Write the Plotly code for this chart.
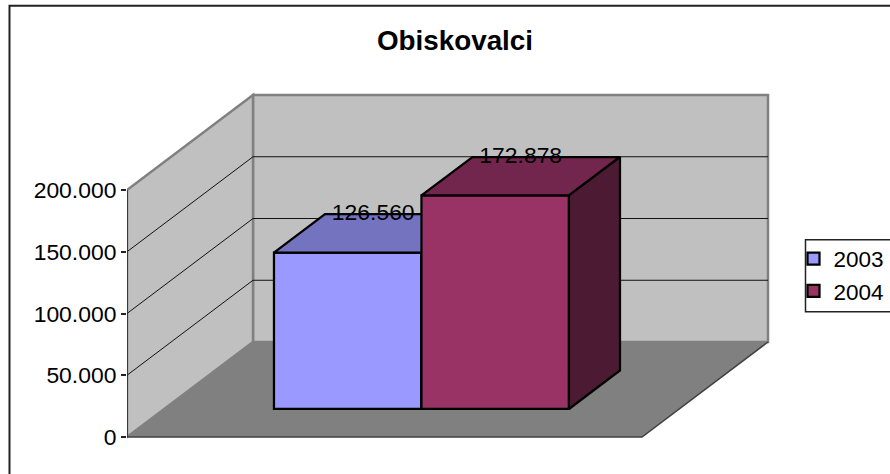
import plotly.graph_objects as go

series_names = ["2003", "2004"]
visitors = [126560, 172878]
tick_values = [0, 50000, 100000, 150000, 200000]
front_colors = ["#9999FF", "#993366"]
top_colors = ["#7373BF", "#73264D"]
side_colors = ["#4D4D80", "#4D1A33"]

FONT = "Liberation Sans, Arial, sans-serif"
W, H = 890, 474
# plot-area rectangle in pixels; pixel scale of the axes
L, R, T, B = 127, 890, 85, 445
X0_PX, Y0_PX, Y200_PX = 127, 437, 190
VALUE_PER_PX = 200000 / (Y0_PX - Y200_PX)
FLOOR_PX = 515

# oblique projection: depth 0..1 moves right and up on the axes
DX = 126 / FLOOR_PX
DY = 95 * VALUE_PER_PX
Z_FRONT, Z_BACK = 0.295, 0.70
GAP = 0.2132
BAR_W = 0.2864
Y_MAX = 200000


def proj(x, v, z):
    return x + DX * z, v + DY * z


def path(points, close=True):
    s = "M" + " L".join(f"{x:.5f},{y:.2f}" for x, y in points)
    return s + (" Z" if close else "")


def px_x(p):
    return (p - L) / (R - L)


def px_y(p):
    return (B - p) / (B - T)


shapes = []
# floor
shapes.append(dict(type="path", layer="below", xref="x", yref="y", line=dict(width=0), fillcolor="#808080",
                   path=path([proj(0, 0, 0), proj(1, 0, 0), proj(1, 0, 1), proj(0, 0, 1)])))
# walls
shapes.append(dict(type="path", layer="below", xref="x", yref="y", line=dict(color="#808080", width=2.5), fillcolor="#C0C0C0",
                   path=path([proj(0, 0, 1), proj(1, 0, 1), proj(1, Y_MAX, 1), proj(0, Y_MAX, 1)])))
shapes.append(dict(type="path", layer="below", xref="x", yref="y", line=dict(color="#808080", width=2.5), fillcolor="#C0C0C0",
                   path=path([proj(0, 0, 0), proj(0, 0, 1), proj(0, Y_MAX, 1), proj(0, Y_MAX, 0)])))
# gridlines
for v in tick_values[1:-1]:
    shapes.append(dict(type="path", layer="below", xref="x", yref="y", line=dict(color="#111111", width=1),
                       path=path([proj(0, v, 0), proj(0, v, 1), proj(1, v, 1)], close=False)))
# floor outer edges
shapes.append(dict(type="path", layer="below", xref="x", yref="y", line=dict(color="#404040", width=1.5),
                   path=path([proj(0, 0, 0), proj(1, 0, 0), proj(1, 0, 1)], close=False)))
# chart frame (runs off the canvas at right and bottom)
shapes.append(dict(type="path", xref="paper", yref="paper", line=dict(color="#222222", width=2),
                   path=path([(px_x(9.5), px_y(480)), (px_x(9.5), px_y(7.5)), (px_x(900), px_y(7.5))], close=False)))
# legend box
shapes.append(dict(type="path", xref="paper", yref="paper", line=dict(color="#222222", width=1.5),
                   path=path([(px_x(900), px_y(241.5)), (px_x(805.5), px_y(241.5)), (px_x(805.5), px_y(311)), (px_x(900), px_y(311))], close=False)))

fig = go.Figure()

for i, (name, value) in enumerate(zip(series_names, visitors)):
    xa, ya = ("x", "y") if i == 0 else ("x2", "y2")
    x_left = GAP + i * BAR_W
    x_right = x_left + BAR_W
    fx, fb = proj(x_left + BAR_W / 2, 0, Z_FRONT)
    fig.add_trace(go.Bar(x=[fx], y=[value], base=[fb], width=[BAR_W], name=name, xaxis=xa, yaxis=ya,
                         legendgroup=name,
                         marker=dict(color=front_colors[i], line=dict(color="black", width=2.25)),
                         hoverinfo="skip"))
    top = [proj(x_left, value, Z_FRONT), proj(x_right, value, Z_FRONT), proj(x_right, value, Z_BACK), proj(x_left, value, Z_BACK)]
    side = [proj(x_right, 0, Z_FRONT), proj(x_right, value, Z_FRONT), proj(x_right, value, Z_BACK), proj(x_right, 0, Z_BACK)]
    for poly, col in ((top, top_colors[i]), (side, side_colors[i])):
        fig.add_trace(go.Scatter(x=[p[0] for p in poly] + [poly[0][0]], y=[p[1] for p in poly] + [poly[0][1]],
                                 mode="lines", fill="toself", fillcolor=col, line=dict(color="black", width=2.25),
                                 showlegend=False, hoverinfo="skip", xaxis=xa, yaxis=ya, cliponaxis=False))

# value labels
lab = [proj(GAP + i * BAR_W + BAR_W / 2, v, Z_BACK) for i, v in enumerate(visitors)]
mid = [proj(GAP + i * BAR_W + BAR_W / 2, v, (Z_FRONT + Z_BACK) / 2) for i, v in enumerate(visitors)]
fig.add_trace(go.Scatter(x=[p[0] for p in mid], y=[p[1] for p in lab],
                         text=[f"{v:,}".replace(",", ".") for v in visitors],
                         mode="text", textposition="middle center", textfont=dict(size=22.9, color="black", family=FONT),
                         showlegend=False, hoverinfo="skip", xaxis="x2", yaxis="y2", cliponaxis=False))
# vertical axis line
fig.add_trace(go.Scatter(x=[0, 0], y=[0, Y_MAX], mode="lines", line=dict(color="#222222", width=1.5),
                         showlegend=False, hoverinfo="skip", cliponaxis=False))

x_range = [0, (R - L) / FLOOR_PX]
y_range = [(Y0_PX - B) * VALUE_PER_PX, (Y0_PX - T) * VALUE_PER_PX]
axis_off = dict(showgrid=False, zeroline=False, showline=False, showticklabels=False, ticks="")

fig.update_layout(
    width=W, height=H, autosize=False,
    margin=dict(l=L, r=W - R, t=T, b=H - B, pad=0),
    paper_bgcolor="white", plot_bgcolor="rgba(0,0,0,0)",
    font=dict(family=FONT, size=22.9, color="black"),
    separators=",.",
    barmode="overlay",
    title=dict(text="<b>Obiskovalci</b>", x=455 / W, y=1 - 40 / H, xanchor="center", yanchor="middle",
               font=dict(size=27.8, family=FONT, color="black")),
    xaxis=dict(range=x_range, **axis_off),
    xaxis2=dict(range=x_range, overlaying="x", anchor="y2", visible=False),
    yaxis=dict(range=y_range, showgrid=False, zeroline=False, showline=False,
               tickmode="array", tickvals=tick_values, tickformat=",d",
               ticks="outside", ticklen=5, tickcolor="#222222", tickwidth=1.5,
               tickfont=dict(size=22.9, family=FONT, color="black")),
    yaxis2=dict(range=y_range, overlaying="y", anchor="x2", visible=False),
    shapes=shapes,
    showlegend=True,
    legend=dict(x=px_x(796.5), y=px_y(237.5), xanchor="left", yanchor="top", bgcolor="rgba(0,0,0,0)", borderwidth=0,
                font=dict(size=22.5, family=FONT, color="black"), indentation=-3, tracegroupgap=9,
                traceorder="normal", itemclick=False, itemdoubleclick=False),
)

fig.write_html("out.html", config=dict(displayModeBar=False),
               post_script="document.body.style.margin='0';document.body.style.overflow='hidden';")
